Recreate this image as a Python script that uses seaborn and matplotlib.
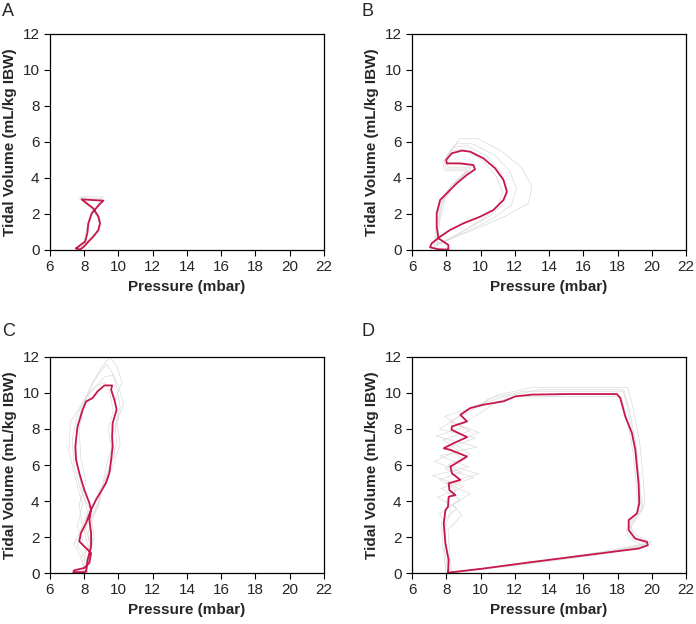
import matplotlib
matplotlib.use("Agg")
import matplotlib.pyplot as plt
import seaborn as sns
import pandas as pd

# mean loops (pressure mbar, tidal volume mL/kg IBW)
a_p = [7.52, 8.05, 8.18, 8.24, 8.44, 8.69, 8.92, 9.12, 7.85, 8.53, 8.83, 8.92, 8.83, 8.53, 8.24, 7.99, 7.75, 7.52]
a_v = [0.09, 0.46, 0.93, 1.48, 2.04, 2.31, 2.56, 2.74, 2.81, 2.31, 1.85, 1.48, 1.11, 0.74, 0.46, 0.19, 0.02, 0.09]

b_p = [8.12, 8.12, 7.54, 7.44, 7.44, 7.64, 8.03, 8.61, 9.20, 9.68, 9.58, 8.81, 8.03, 7.99, 8.32, 8.91, 9.40,
       10.17, 10.85, 11.34, 11.54, 11.34, 10.75, 9.98, 9.00, 8.22, 7.64, 7.15, 7.05, 7.54, 8.12]
b_v = [0.02, 0.28, 0.65, 1.30, 2.04, 2.78, 3.15, 3.70, 4.17, 4.48, 4.72, 4.81, 4.81, 5.00, 5.37, 5.52, 5.46,
       5.09, 4.54, 3.89, 3.24, 2.78, 2.22, 1.85, 1.48, 1.11, 0.74, 0.37, 0.15, 0.04, 0.02]

c_p = [8.11, 8.20, 8.40, 8.40, 8.30, 8.40, 8.69, 8.98, 9.27, 9.47, 9.57, 9.66, 9.63, 9.66, 9.89, 9.76, 9.57, 9.63,
       9.18, 8.78, 8.49, 8.11, 7.91, 7.61, 7.48, 7.52, 7.71, 8.00, 8.30, 8.40, 8.11, 7.81, 7.71, 8.00, 8.40, 8.30,
       8.00, 7.42, 7.36, 8.00, 8.11]
c_v = [0.09, 0.74, 1.48, 2.22, 2.96, 3.52, 4.07, 4.53, 5.00, 5.56, 6.29, 7.03, 7.59, 8.33, 9.07, 9.63, 10.18, 10.42,
       10.42, 10.09, 9.72, 9.53, 9.07, 8.14, 7.03, 6.29, 5.56, 4.63, 3.89, 3.52, 2.78, 2.22, 1.76, 1.48, 1.11, 0.56,
       0.28, 0.15, 0.05, 0.05, 0.09]

d_p = [8.10, 8.14, 7.95, 7.85, 7.95, 8.10, 8.14, 8.53, 8.18, 8.14, 8.82, 8.33, 8.24, 9.21, 8.24, 7.85, 8.43, 9.21,
       8.30, 8.33, 9.21, 8.82, 9.40, 10.18, 11.35, 12.03, 13.00, 14.95, 17.96, 18.16, 18.45, 18.84, 19.04, 19.13,
       19.23, 19.27, 19.13, 18.65, 18.65, 19.04, 19.72, 19.77, 19.23, 16.89, 13.00, 10.09, 8.10]
d_v = [0.02, 0.71, 1.64, 2.75, 3.49, 3.68, 4.24, 4.33, 4.61, 4.98, 5.17, 5.54, 5.91, 6.47, 6.84, 6.93, 7.21, 7.55,
       7.96, 8.14, 8.42, 8.79, 9.16, 9.35, 9.54, 9.81, 9.91, 9.94, 9.94, 9.72, 8.70, 7.77, 6.84, 5.91,
       4.98, 3.87, 3.31, 2.94, 2.38, 1.91, 1.73, 1.54, 1.36, 1.08, 0.61, 0.24, 0.02]

# individual breaths (grey), rough traces
a_grey_p = [[7.6, 8.1, 8.3, 8.5, 8.8, 9.0, 9.1, 7.8, 8.5, 8.9, 9.0, 8.8, 8.5, 8.2, 7.9, 7.6],
            [7.5, 8.0, 8.2, 8.4, 8.7, 8.9, 9.0, 7.7, 8.4, 8.8, 8.9, 8.7, 8.4, 8.1, 7.8, 7.5]]
a_grey_v = [[0.1, 0.5, 1.5, 2.1, 2.5, 2.8, 2.95, 2.95, 2.3, 1.8, 1.4, 1.0, 0.7, 0.4, 0.1, 0.1],
            [0.1, 0.5, 1.4, 2.0, 2.4, 2.7, 2.85, 2.9, 2.3, 1.8, 1.4, 1.0, 0.7, 0.4, 0.15, 0.1]]

b_grey_p = [[7.5, 7.6, 7.9, 8.6, 9.4, 9.5, 8.2, 8.1, 8.8, 9.8, 11.2, 12.4, 13.0, 12.8, 11.5, 9.8, 8.2, 7.5],
            [7.4, 7.5, 7.8, 8.5, 9.3, 9.4, 8.1, 8.0, 8.6, 9.5, 10.8, 11.7, 12.1, 11.8, 10.8, 9.4, 8.0, 7.4],
            [7.5, 7.5, 7.7, 8.3, 9.1, 9.2, 8.0, 7.9, 8.4, 9.2, 10.4, 11.2, 11.6, 11.3, 10.4, 9.1, 7.9, 7.5],
            [7.3, 7.4, 7.6, 8.2, 9.0, 9.2, 7.9, 7.8, 8.3, 9.0, 10.1, 10.9, 11.3, 11.0, 10.1, 8.9, 7.8, 7.3]]
b_grey_v = [[0.4, 1.5, 2.8, 3.8, 4.5, 4.7, 4.8, 5.3, 6.2, 6.2, 5.5, 4.6, 3.5, 2.6, 1.9, 1.2, 0.6, 0.4],
            [0.3, 1.4, 2.7, 3.7, 4.4, 4.6, 4.6, 5.2, 5.9, 5.9, 5.3, 4.4, 3.4, 2.5, 1.8, 1.1, 0.5, 0.3],
            [0.3, 1.3, 2.6, 3.6, 4.3, 4.5, 4.5, 5.0, 5.7, 5.8, 5.2, 4.3, 3.3, 2.5, 1.8, 1.1, 0.5, 0.3],
            [0.2, 1.2, 2.5, 3.5, 4.2, 4.4, 4.4, 4.9, 5.5, 5.6, 5.0, 4.1, 3.2, 2.4, 1.7, 1.0, 0.4, 0.2]]

c_grey_p = [[8.1, 8.3, 8.5, 8.3, 8.7, 9.2, 9.6, 9.9, 9.8, 10.1, 9.9, 9.6, 9.3, 8.8, 8.3, 7.8, 7.5, 7.6, 7.9, 8.2, 7.8, 7.6, 8.2, 8.1],
            [8.0, 8.4, 8.2, 8.6, 9.0, 9.4, 9.8, 9.6, 10.0, 9.8, 10.2, 9.9, 9.5, 9.0, 8.5, 8.0, 7.7, 7.8, 8.1, 7.7, 7.9, 7.4, 7.9, 8.0],
            [8.2, 8.2, 8.6, 8.4, 8.9, 9.1, 9.3, 9.6, 9.4, 9.7, 9.5, 9.2, 8.7, 8.1, 7.6, 7.3, 7.4, 7.8, 8.3, 8.0, 8.4, 7.8, 8.2],
            [7.9, 8.3, 8.0, 8.8, 9.1, 9.7, 10.1, 9.9, 10.3, 10.0, 9.7, 9.2, 8.6, 8.0, 7.2, 7.1, 7.5, 7.9, 7.6, 8.1, 7.9]]
c_grey_v = [[0.0, 0.8, 1.8, 3.0, 4.2, 5.2, 6.2, 7.2, 8.2, 9.2, 10.3, 11.2, 11.6, 11.0, 10.2, 9.0, 7.5, 6.0, 4.5, 3.4, 2.4, 1.5, 0.6, 0.0],
            [0.0, 1.0, 2.2, 3.3, 4.5, 5.6, 6.6, 7.6, 8.6, 9.6, 10.6, 11.5, 12.0, 11.4, 10.6, 9.4, 8.0, 6.4, 5.0, 3.8, 2.6, 1.6, 0.7, 0.0],
            [0.0, 0.9, 2.0, 3.1, 4.0, 5.0, 6.0, 7.0, 8.0, 9.0, 10.0, 10.6, 10.4, 9.8, 8.8, 7.4, 6.0, 4.6, 3.6, 2.6, 1.7, 0.8, 0.0],
            [0.0, 1.1, 2.4, 3.6, 4.8, 6.0, 7.2, 8.4, 9.4, 10.4, 11.0, 10.9, 10.3, 9.6, 8.4, 6.8, 5.2, 3.8, 2.6, 1.2, 0.0]]

d_grey_p = [[8.2, 8.0, 7.9, 8.3, 8.0, 8.6, 7.6, 8.9, 7.3, 8.7, 7.8, 9.4, 8.2, 9.6, 10.5, 12.5, 18.4, 18.7, 19.1, 19.3, 19.4, 18.8, 18.9, 19.8, 17.0, 13.0, 8.2],
            [8.0, 7.8, 7.7, 8.6, 7.5, 9.0, 7.2, 9.3, 7.6, 9.8, 7.4, 9.0, 7.9, 9.9, 11.0, 13.0, 18.6, 18.9, 19.3, 19.5, 19.6, 18.6, 19.1, 20.0, 17.2, 13.2, 8.1],
            [8.3, 8.2, 8.1, 8.9, 8.4, 9.4, 8.0, 9.9, 8.1, 9.4, 8.4, 9.9, 8.8, 10.0, 10.9, 12.0, 18.2, 18.5, 18.9, 19.1, 19.2, 18.5, 18.7, 19.6, 16.8, 12.8, 8.3],
            [8.1, 7.9, 8.0, 7.6, 8.8, 7.7, 9.6, 7.9, 9.1, 8.0, 9.7, 7.6, 8.6, 9.4, 11.4, 13.5, 18.3, 18.6, 19.0, 19.2, 19.5, 18.7, 18.8, 19.7, 17.1, 13.1, 8.1]]
d_grey_v = [[0.0, 1.2, 2.6, 3.4, 4.0, 4.6, 5.2, 5.6, 6.2, 6.8, 7.4, 7.9, 8.4, 9.1, 9.7, 10.1, 10.1, 9.0, 7.0, 5.0, 3.5, 2.6, 2.0, 1.6, 1.1, 0.6, 0.0],
            [0.0, 1.4, 2.8, 3.6, 4.2, 4.8, 5.4, 5.9, 6.5, 7.0, 7.6, 8.1, 8.7, 9.3, 9.9, 10.3, 10.3, 9.2, 7.2, 5.2, 3.8, 2.7, 2.1, 1.7, 1.2, 0.6, 0.0],
            [0.0, 1.0, 2.4, 3.2, 3.8, 4.4, 5.0, 5.5, 6.0, 6.6, 7.2, 7.8, 8.2, 8.9, 9.5, 9.8, 9.8, 8.8, 6.8, 4.8, 3.3, 2.4, 1.9, 1.5, 1.0, 0.5, 0.0],
            [0.0, 1.3, 2.7, 3.3, 4.1, 4.7, 5.3, 5.8, 6.3, 6.9, 7.5, 8.0, 8.6, 9.2, 9.8, 10.2, 10.2, 9.1, 7.1, 5.1, 3.6, 2.5, 2.0, 1.6, 1.1, 0.6, 0.0]]

panels = [
    ("A", a_p, a_v, a_grey_p, a_grey_v),
    ("B", b_p, b_v, b_grey_p, b_grey_v),
    ("C", c_p, c_v, c_grey_p, c_grey_v),
    ("D", d_p, d_v, d_grey_p, d_grey_v),
]

sns.set_style("ticks")
plt.rcParams["font.family"] = ["Liberation Sans", "DejaVu Sans"]

fig = plt.figure(figsize=(6.96, 6.24), dpi=100)
rects = [[0.0718, 0.5994, 0.3937, 0.3462], [0.592, 0.5994, 0.3937, 0.3462],
         [0.0718, 0.0817, 0.3937, 0.3462], [0.592, 0.0817, 0.3937, 0.3462]]
letter_xy = [(0.003, 0.995), (0.520, 0.995), (0.003, 0.482), (0.520, 0.482)]

for (name, p, v, gp, gv), rect, lxy in zip(panels, rects, letter_xy):
    ax = fig.add_axes(rect)
    for xs, ys in zip(gp, gv):
        g = pd.DataFrame({"p": xs, "v": ys})
        sns.lineplot(data=g, x="p", y="v", sort=False, estimator=None, ax=ax,
                     color="#dadada", lw=0.5)
    m = pd.DataFrame({"p": p, "v": v})
    sns.lineplot(data=m, x="p", y="v", sort=False, estimator=None, ax=ax,
                 color="#c8174a", lw=1.3)
    ax.set_xlim(6, 22)
    ax.set_ylim(0, 12)
    ax.set_xticks(range(6, 23, 2))
    ax.set_yticks(range(0, 13, 2))
    ax.tick_params(labelsize=11, length=4, width=0.8, color="black")
    for s in ax.spines.values():
        s.set_color("black")
        s.set_linewidth(0.9)
    ax.set_xlabel("Pressure (mbar)", fontsize=11, fontweight="bold")
    ax.set_ylabel("Tidal Volume (mL/kg IBW)", fontsize=11, fontweight="bold")
    fig.text(lxy[0], lxy[1], name, fontsize=13, va="top", ha="left")

fig.savefig("out.png", dpi=100)
